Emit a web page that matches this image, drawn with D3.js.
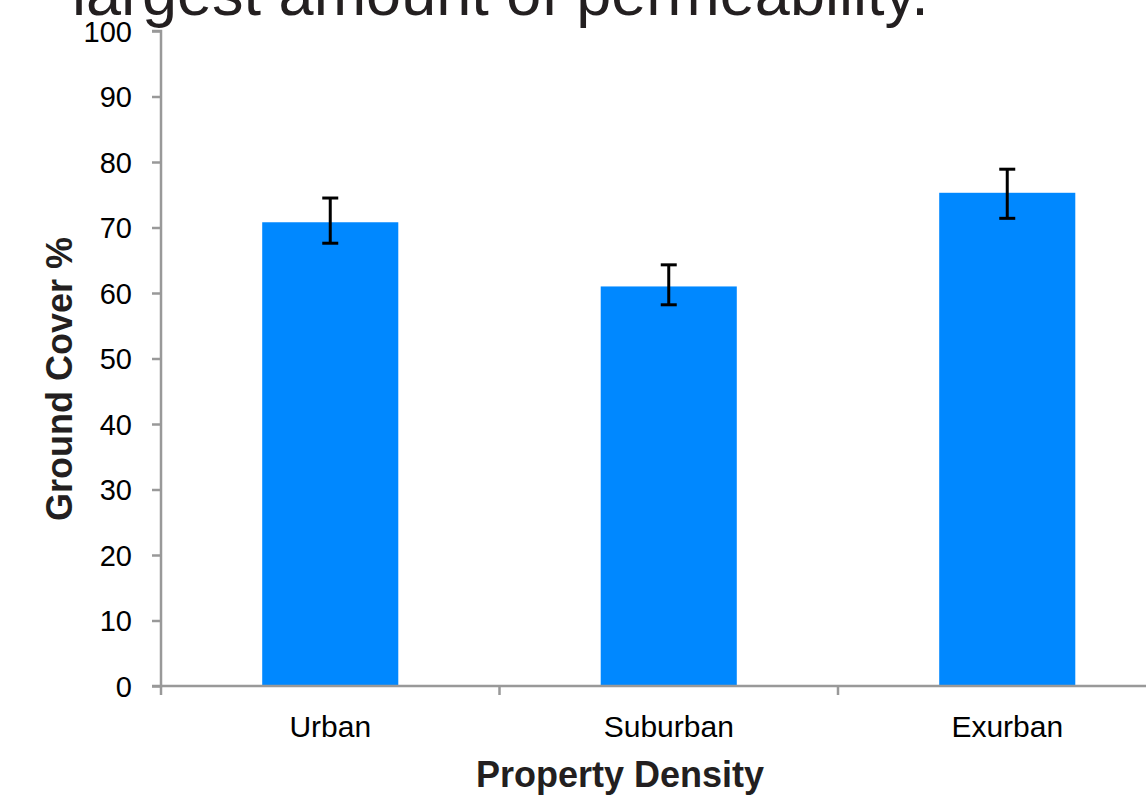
<!DOCTYPE html>
<html><head><meta charset="utf-8">
<script src="https://cdn.jsdelivr.net/npm/d3@7"></script>
<style>body{margin:0;background:#fff;overflow:hidden}</style>
</head><body>
<svg id="chart" width="1146" height="797"></svg>
<script>
const categories = ["Urban", "Suburban", "Exurban"];
const values = [70.8, 61.0, 75.3];
const errHigh = [74.5, 64.3, 78.9];
const errLow = [67.6, 58.2, 71.4];
const yTicks = [0,10,20,30,40,50,60,70,80,90,100];
const titleText = "largest amount of permeability.";

const svg = d3.select("#chart");
const x = d3.scaleBand().domain(categories).range([161, 1176.5]).paddingInner(0).paddingOuter(0);
const y = d3.scaleLinear().domain([0,100]).range([686, 31]);
const font = "Liberation Sans, Arial, Helvetica, sans-serif";

svg.append("text").attr("x", 72).attr("y", 15).attr("font-family", font)
  .attr("font-size", 63).attr("fill", "#231f20").text(titleText);

const barW = x.bandwidth()*0.402;
svg.selectAll("rect.bar").data(categories).join("rect").attr("class","bar")
  .attr("x", d => x(d) + x.bandwidth()/2 - barW/2)
  .attr("width", barW)
  .attr("y", (d,i) => y(values[i]))
  .attr("height", (d,i) => y(0) - y(values[i]))
  .attr("fill", "#0088ff");

// y axis
const yAxis = d3.axisLeft(y).tickValues(yTicks).tickSize(9).tickPadding(20);
const gy = svg.append("g").attr("transform","translate(161,0)").call(yAxis);
gy.select(".domain").attr("stroke","#999").attr("stroke-width",2.5).attr("d","M-9,31H0V686H-9");
gy.selectAll(".tick line").attr("stroke","#999").attr("stroke-width",2.5);
gy.selectAll(".tick text").attr("font-family",font).attr("font-size",29).attr("fill","#000").attr("dy","0.35em");

// x axis
const xAxis = d3.axisBottom(x).tickSize(0).tickPadding(30);
const gx = svg.append("g").attr("transform","translate(0,686)").call(xAxis);
gx.select(".domain").attr("stroke","#999").attr("stroke-width",2.5).attr("d","M161,0H1180");
gx.selectAll(".tick text").attr("font-family",font).attr("font-size",30).attr("fill","#000").attr("dy","0.71em");
// category boundary ticks
gx.selectAll("line.sep").data(categories).join("line").attr("class","sep")
  .attr("x1", d => x(d)).attr("x2", d => x(d)).attr("y1",0).attr("y2",9)
  .attr("stroke","#999").attr("stroke-width",2.5);

// error bars
const cap = 14;
const eg = svg.append("g");
categories.forEach((c,i) => {
  const cx = x(c) + x.bandwidth()/2;
  eg.append("line").attr("x1",cx).attr("x2",cx).attr("y1",y(errHigh[i])).attr("y2",y(errLow[i])).attr("stroke","#000").attr("stroke-width",3);
  eg.append("line").attr("x1",cx-cap/2-1).attr("x2",cx+cap/2+1).attr("y1",y(errHigh[i])).attr("y2",y(errHigh[i])).attr("stroke","#000").attr("stroke-width",3);
  eg.append("line").attr("x1",cx-cap/2-1).attr("x2",cx+cap/2+1).attr("y1",y(errLow[i])).attr("y2",y(errLow[i])).attr("stroke","#000").attr("stroke-width",3);
});

svg.append("text").attr("transform","translate(72,379) rotate(-90)").attr("text-anchor","middle")
  .attr("font-family",font).attr("font-weight","bold").attr("font-size",36).attr("fill","#231f20").text("Ground Cover %");
svg.append("text").attr("x",620).attr("y",787).attr("text-anchor","middle")
  .attr("font-family",font).attr("font-weight","bold").attr("font-size",36).attr("fill","#231f20").text("Property Density");
</script>
</body></html>
